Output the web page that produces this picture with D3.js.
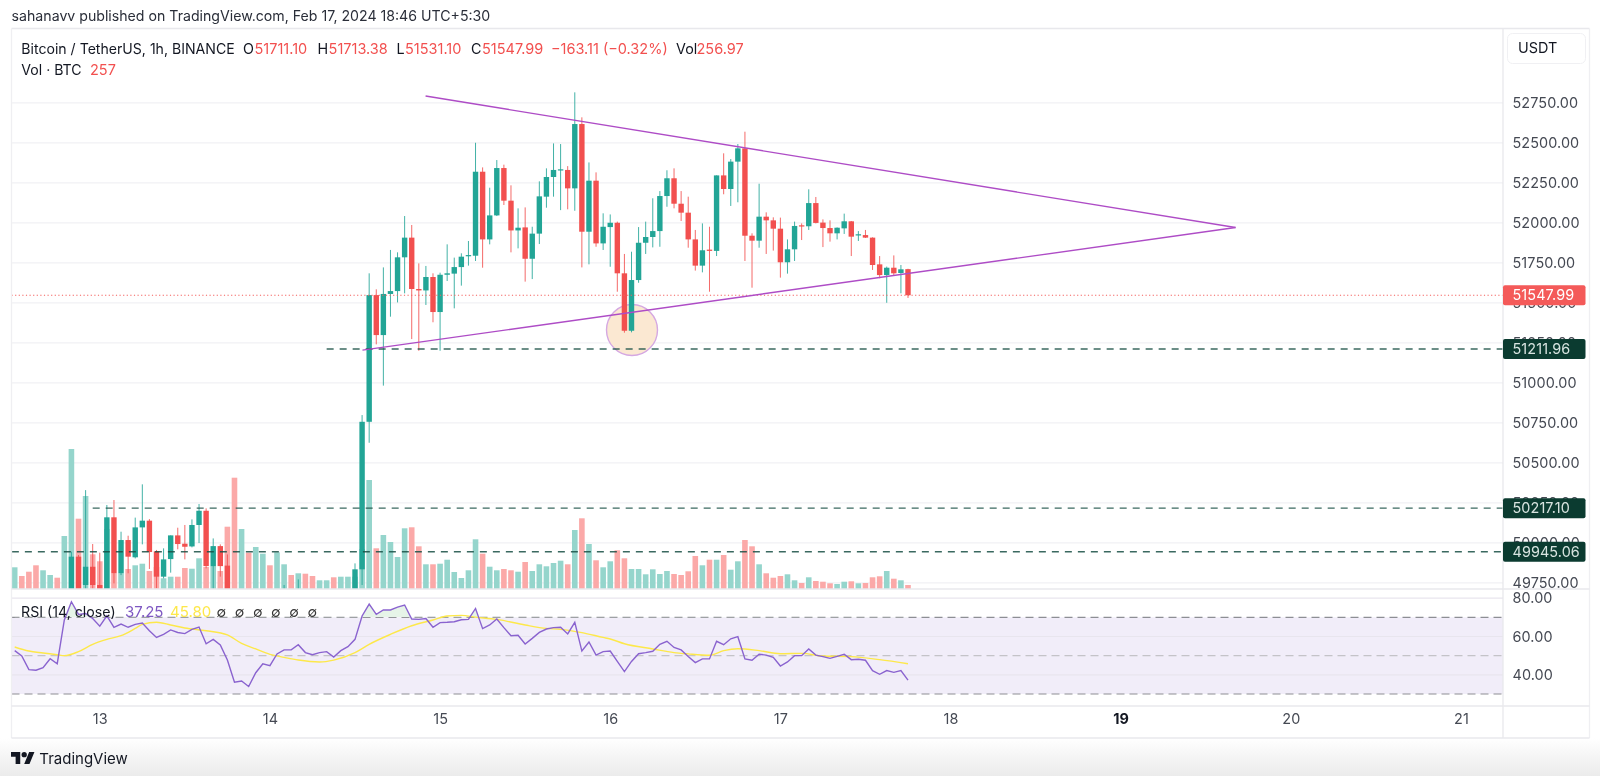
<!DOCTYPE html>
<html>
<head>
	<meta charset="utf-8">
	<title>BTCUSDT 1h</title>
	<script src="https://d3js.org/d3.v7.min.js"></script>
	<style type="text/css">
		html, body {
			margin: 0;
			background: #fff;
			overflow: hidden;
		}
		svg {
			display: block;
			filter: blur(0.35px);
			font-family: Inter, "Liberation Sans", sans-serif;
		}
		.tick text {
			font-family: Inter, "Liberation Sans", sans-serif;
		}
	</style>
</head>
<body>
<div id="chart"></div>

<script>
	// hourly bars, first one is Feb 12 12:00. bars hidden under the pane are rough guesses
	var opens = [
		49600,49640,49640,49640,49600,49600,49640,49600,49650,49914,
		49737,49851,49737,49650,50160,49810,50018,49910,50097,50139,
		49947,49789,49899,50047,49995,49978,50112,50201,49855,49980,
		49858,49640,49600,49640,49600,49600,49640,49600,49600,49640,
		49600,49640,49640,49600,49600,49640,49600,49600,49650,49835,
		50757,51549,51299,51556,51574,51785,51908,51587,51578,51662,
		51443,51676,51683,51724,51795,51795,52320,51897,52047,52343,
		52139,51953,51972,51776,51933,52164,52287,52331,52331,52216,
		52618,51945,52264,51872,51974,52001,51685,51326,51643,51876,
		51912,51949,52168,52279,52120,52064,51897,51733,51833,51825,
		52297,52212,52383,52466,51920,51889,52039,52016,51964,51754,
		51835,51985,51979,52124,52002,51968,51935,51966,52010,51924,
		51924,51908,51741,51674,51720,51687,51711.10
	];
	var closes = [
		49640,49600,49600,49600,49640,49640,49600,49640,49914,49650,
		49851,49737,49650,50160,49810,50018,49914,50097,50139,49943,
		49789,49897,50047,49993,49976,50112,50201,49855,49980,49855,
		49650,49600,49640,49600,49640,49640,49600,49640,49640,49600,
		49640,49600,49600,49640,49640,49600,49640,49640,49835,50757,
		51549,51299,51556,51574,51785,51908,51587,51578,51662,51443,
		51676,51685,51724,51789,51799,52320,51897,52047,52343,52139,
		51953,51970,51776,51933,52166,52287,52331,52335,52216,52618,
		51945,52264,51872,51976,52001,51685,51326,51643,51876,51912,
		51949,52168,52279,52120,52064,51897,51733,51829,51825,52297,
		52212,52383,52466,51920,51889,52039,52016,51964,51754,51835,
		51981,51979,52124,52000,51968,51935,51970,52010,51914,51929,
		51908,51737,51674,51720,51685,51710,51547.99
	];
	var highs = [
		49660,49660,49660,49660,49660,49660,49660,49660,49945,49924,
		50330,49993,49939,50237,50268,50070,50045,50158,50366,50149,
		49956,49966,50047,50095,50112,50147,50243,50216,50028,49991,
		49928,49660,49660,49660,49660,49660,49660,49660,49737,49660,
		49772,49660,49660,49660,49660,49660,49660,49660,49872,50799,
		51685,51585,51722,51831,51816,52043,51987,51747,51731,51685,
		51689,51866,51783,51810,51887,52501,52347,52220,52393,52364,
		52235,52091,52097,51976,52260,52341,52497,52493,52355,52816,
		52660,52378,52316,52060,52053,52008,51806,51820,51974,52008,
		52154,52199,52329,52341,52199,52164,51956,51997,51976,52297,
		52435,52399,52493,52570,51935,52245,52066,52035,52033,51897,
		52008,51997,52210,52162,52022,52016,51972,52058,52012,51949,
		51956,51910,51793,51727,51797,51737,51713.38
	];
	var lows = [
		49580,49580,49580,49580,49580,49580,49580,49580,49600,49600,
		49650,49690,49600,49600,49747,49799,49810,49903,49991,49837,
		49716,49778,49814,49960,49897,49972,49999,49841,49650,49789,
		49600,49580,49580,49580,49580,49580,49580,49580,49580,49580,
		49580,49580,49580,49580,49580,49580,49580,49580,49600,49737,
		50626,51241,50983,51414,51503,51560,51274,51201,51487,51379,
		51201,51637,51466,51608,51733,51762,51720,51866,52043,52112,
		51816,51841,51633,51649,51868,52095,52164,52080,52085,52076,
		51722,51741,51851,51831,51726,51570,51314,51316,51626,51806,
		51847,51851,52101,52091,52012,51845,51702,51691,51570,51793,
		52179,52106,52129,51762,51595,51845,51806,51827,51658,51683,
		51762,51893,51956,51997,51849,51883,51897,51931,51793,51887,
		51906,51706,51654,51501,51670,51560,51531.10
	];
	var volumes = [
		1389,832,1107,1517,1197,896,723,3392,8960,4499,
		5952,2221,1773,3840,1005,1005,1280,1517,1619,1152,
		1408,685,787,787,1344,1299,1965,1408,1472,1152,
		3987,7123,3840,2323,2688,2259,1517,2349,1581,896,
		1005,979,832,557,557,749,787,787,787,2560,
		6976,2605,3456,3008,2048,3885,3949,2733,1581,1581,
		1619,1875,1088,704,1197,3181,2259,1427,1197,1280,
		1197,1107,1728,1152,1581,1453,1664,1811,1581,3776,
		4525,2880,1837,1389,1773,2477,1965,1280,1280,941,
		1261,960,1152,960,896,1133,2112,1517,1875,1875,
		2176,1235,1773,3136,2733,1581,1005,723,832,941,
		557,384,749,512,467,365,320,467,493,365,
		384,749,813,1152,659,557,257
	];
	var rsi = [
		52.6,49.8,42.7,42.4,43.7,48.4,45.8,68.6,78.1,71.5,
		72.0,69.4,65.4,70.8,64.8,66.5,64.8,66.3,67.0,63.0,
		59.5,61.1,63.4,62.1,61.5,63.7,64.9,56.2,58.5,55.6,
		47.7,36.1,36.8,33.9,41.1,45.8,44.8,50.9,53.0,53.0,
		55.7,51.6,50.5,51.6,52.1,49.3,52.6,54.7,58.5,70.7,
		76.9,71.5,73.8,73.8,75.3,76.4,69.1,68.9,69.4,64.8,
		67.2,67.4,67.7,68.7,68.9,74.6,64.1,66.0,69.1,64.6,
		60.4,60.6,56.1,59.0,62.1,63.9,64.6,64.8,61.3,67.4,
		52.4,57.1,50.3,52.1,52.4,47.0,41.7,47.0,51.0,51.6,
		52.3,55.9,57.5,54.3,53.0,49.6,46.4,48.3,48.3,57.5,
		55.7,58.8,59.9,48.3,47.6,50.7,50.3,49.1,44.6,46.7,
		50.0,50.0,53.5,50.3,49.5,48.6,49.6,50.7,47.9,48.1,
		47.6,42.2,40.3,42.2,41.3,42.2,37.25
	];
	// rsi moving average, read at these bars
	var rsiMaBars = [0,2,4,6,7,9,11,13,15,17,18,20,22,24,27,30,32,34,36,38,40,43,45,48,50,53,56,59,61,63,65,68,72,75,77,80,83,84,86,90,93,95,98,100,102,105,108,111,114,118,122,126];
	var rsiMaValues = [54.5,52.4,51.4,50.5,50.0,52.1,55.9,58.5,60.4,64.2,66.3,67.4,66.0,64.4,63.0,60.8,56.4,53.5,50.7,49.1,47.7,46.7,47.7,51.6,55.9,61.1,65.6,68.6,70.7,71.0,70.1,68.9,66.0,64.2,63.7,62.0,59.5,58.7,56.2,53.5,51.6,50.9,50.2,52.6,53.6,52.6,51.0,51.2,49.8,49.5,47.9,45.8];

	var priceTicks = [52750,52500,52250,52000,51750,51500,51250,51000,50750,50500,50250,50000,49750];
	var rsiTicks = [80,60,40];
	var rsiBands = [70,50,30];
	var dayBars = [12,36,60,84,108,132,156,180,204];
	var dayLabels = ["13","14","15","16","17","18","19","20","21"];
	var lastPrice = 51547.99;
	var levels = [51211.96,50217.10,49945.06];
	var levelStartBars = [44,11,-0.4];
	var trendUpper = [[57.95,52793],[172.2,51971]];
	var trendLower = [[49.05,51205],[172.2,51971]];
	var circleSpot = [87.07,51331];

	var width = 1600, height = 776;
	var frame = {left: 11.5, right: 1589.5, top: 28.5, axis: 1503};
	var paneBottom = 589, rsiBottom = 706, timeBottom = 738;

	var green = "#22a596", red = "#f2504f", textDark = "#131722", tickColor = "#454953";

	var x = d3.scaleLinear().domain([0,126]).range([14.7,908]);
	var y = d3.scaleLinear().domain([49945.06,51211.96]).range([551.7,349]);
	var yVol = d3.scaleLinear().domain([0,8960]).range([paneBottom,449]);
	var yRsi = d3.scaleLinear().domain([30,70]).range([694,617.3]);

	var svg = d3.select("#chart").append("svg")
		.attr("width", width)
		.attr("height", height);

	var defs = svg.append("defs");
	defs.append("clipPath").attr("id","priceClip").append("rect")
		.attr("x",frame.left).attr("y",frame.top)
		.attr("width",frame.axis-frame.left).attr("height",paneBottom-frame.top);
	defs.append("clipPath").attr("id","overbought").append("rect")
		.attr("x",frame.left).attr("y",paneBottom)
		.attr("width",frame.axis-frame.left).attr("height",yRsi(70)-paneBottom);
	var foot = defs.append("linearGradient").attr("id","foot")
		.attr("x1",0).attr("y1",0).attr("x2",0).attr("y2",1);
	foot.append("stop").attr("offset","0%").attr("stop-color","#fff");
	foot.append("stop").attr("offset","100%").attr("stop-color","#ebebeb");

	// footer fade
	svg.append("rect")
		.attr("x",0).attr("y",timeBottom)
		.attr("width",width).attr("height",height-timeBottom)
		.attr("fill","url(#foot)");

	/****** gridlines ******/
	svg.append("g").selectAll("line").data(priceTicks).enter().append("line")
		.attr("x1",frame.left).attr("x2",frame.axis)
		.attr("y1",function(d){ return y(d); })
		.attr("y2",function(d){ return y(d); })
		.attr("stroke","#f1f1f4").attr("stroke-width",1.4);

	/****** volume ******/
	var pane = svg.append("g").attr("clip-path","url(#priceClip)");

	pane.append("g").selectAll("rect").data(volumes).enter().append("rect")
		.attr("x",function(d,i){ return x(i)-2.8; })
		.attr("width",5.6)
		.attr("y",function(d){ return yVol(d); })
		.attr("height",function(d){ return paneBottom-yVol(d); })
		.attr("fill",function(d,i){ return closes[i]>=opens[i] ? "#95d5cc" : "#fba9a8"; });

	/****** circle under the candles ******/
	pane.append("circle")
		.attr("cx",x(circleSpot[0]))
		.attr("cy",y(circleSpot[1]))
		.attr("r",25.5)
		.attr("fill","#fbe8d2")
		.attr("stroke","#d5a8e2")
		.attr("stroke-width",1.4);

	/****** candles ******/
	var candles = pane.append("g").selectAll("g").data(opens).enter().append("g");

	candles.append("line")
		.attr("x1",function(d,i){ return x(i); })
		.attr("x2",function(d,i){ return x(i); })
		.attr("y1",function(d,i){ return y(highs[i]); })
		.attr("y2",function(d,i){ return y(lows[i]); })
		.attr("stroke",function(d,i){ return closes[i]>=opens[i] ? green : red; })
		.attr("stroke-opacity",0.85)
		.attr("stroke-width",1);

	candles.append("rect")
		.attr("x",function(d,i){ return x(i)-2.7; })
		.attr("width",5.4)
		.attr("y",function(d,i){ return y(Math.max(opens[i],closes[i])); })
		.attr("height",function(d,i){ return Math.max(1.2,Math.abs(y(opens[i])-y(closes[i]))); })
		.attr("fill",function(d,i){ return closes[i]>=opens[i] ? green : red; });

	/****** levels and last price ******/
	pane.selectAll(".level").data(levels).enter().append("line")
		.attr("class","level")
		.attr("x1",function(d,i){ return x(levelStartBars[i]); })
		.attr("x2",frame.axis)
		.attr("y1",function(d){ return y(d); })
		.attr("y2",function(d){ return y(d); })
		.attr("stroke","#174f44")
		.attr("stroke-opacity",0.85)
		.attr("stroke-width",1.4)
		.attr("stroke-dasharray","7,6");

	pane.append("line")
		.attr("x1",frame.left).attr("x2",frame.axis)
		.attr("y1",y(lastPrice)).attr("y2",y(lastPrice))
		.attr("stroke","#f4605e")
		.attr("stroke-width",1.2)
		.attr("stroke-dasharray","1.2,2.4");

	/****** triangle ******/
	var trendLine = d3.line()
		.x(function(d){ return x(d[0]); })
		.y(function(d){ return y(d[1]); });

	[trendUpper,trendLower].forEach(function(t){
		pane.append("path")
			.attr("d",trendLine(t))
			.attr("fill","none")
			.attr("stroke","#ae4cc6")
			.attr("stroke-width",1.4);
	});

	/****** rsi pane ******/
	svg.append("rect")
		.attr("x",frame.left).attr("width",frame.axis-frame.left)
		.attr("y",yRsi(70)).attr("height",yRsi(30)-yRsi(70))
		.attr("fill","#f1edf9");

	svg.append("g").selectAll("line").data(rsiTicks).enter().append("line")
		.attr("x1",frame.left).attr("x2",frame.axis)
		.attr("y1",function(d){ return yRsi(d); })
		.attr("y2",function(d){ return yRsi(d); })
		.attr("stroke","#e8e5ee").attr("stroke-width",1.2);

	svg.append("g").selectAll("line").data(rsiBands).enter().append("line")
		.attr("x1",frame.left).attr("x2",frame.axis)
		.attr("y1",function(d){ return yRsi(d); })
		.attr("y2",function(d){ return yRsi(d); })
		.attr("stroke",function(d){ return d==50 ? "#c4c3c8" : "#8d8e94"; })
		.attr("stroke-width",1.2)
		.attr("stroke-dasharray","8,5");

	svg.append("path")
		.datum(rsi)
		.attr("clip-path","url(#overbought)")
		.attr("fill","#e6f4e8")
		.attr("d",d3.area()
			.x(function(d,i){ return x(i); })
			.y0(yRsi(70))
			.y1(function(d){ return yRsi(d); }));

	svg.append("path")
		.datum(rsiMaValues)
		.attr("fill","none")
		.attr("stroke","#fde84a")
		.attr("stroke-width",1.4)
		.attr("d",d3.line()
			.curve(d3.curveMonotoneX)
			.x(function(d,i){ return x(rsiMaBars[i]); })
			.y(function(d){ return yRsi(d); }));

	svg.append("path")
		.datum(rsi)
		.attr("fill","none")
		.attr("stroke","#8a63cf")
		.attr("stroke-width",1.4)
		.attr("d",d3.line()
			.x(function(d,i){ return x(i); })
			.y(function(d){ return yRsi(d); }));

	/****** frame ******/
	var frameLines = [
		[frame.left,frame.top,frame.right,frame.top],
		[frame.left,frame.top,frame.left,timeBottom],
		[frame.right,frame.top,frame.right,timeBottom],
		[frame.axis,frame.top,frame.axis,timeBottom],
		[frame.left,paneBottom,frame.right,paneBottom],
		[frame.left,rsiBottom,frame.right,rsiBottom],
		[frame.left,timeBottom,frame.right,timeBottom]
	];
	svg.append("g").selectAll("line").data(frameLines).enter().append("line")
		.attr("x1",function(d){ return d[0]; })
		.attr("y1",function(d){ return d[1]; })
		.attr("x2",function(d){ return d[2]; })
		.attr("y2",function(d){ return d[3]; })
		.attr("stroke",function(d){ return d[0]==frame.left && d[2]==frame.left || d[0]==frame.right ? "#efeff2" : "#e8e8ec"; })
		.attr("stroke-width",1.3);

	/****** axes ******/
	var priceAxis = svg.append("g")
		.attr("transform","translate("+frame.axis+",0)")
		.call(d3.axisRight(y).tickValues(priceTicks).tickSize(0).tickPadding(9.5).tickFormat(d3.format(".2f")));
	var rsiAxis = svg.append("g")
		.attr("transform","translate("+frame.axis+",0)")
		.call(d3.axisRight(yRsi).tickValues(rsiTicks).tickSize(0).tickPadding(9.5).tickFormat(d3.format(".2f")));
	var timeAxis = svg.append("g")
		.attr("transform","translate(0,714)")
		.call(d3.axisBottom(x).tickValues(dayBars).tickSize(0).tickPadding(0).tickFormat(function(d,i){ return dayLabels[i]; }));

	[priceAxis,rsiAxis,timeAxis].forEach(function(a){
		a.select(".domain").remove();
		a.selectAll("text")
			.attr("fill",tickColor)
			.style("font-size","14.4px")
			.style("letter-spacing","0.1px");
	});
	timeAxis.selectAll("text")
		.style("font-weight",function(d,i){ return dayLabels[i]=="19" ? 700 : 400; })
		.attr("fill",function(d,i){ return dayLabels[i]=="19" ? textDark : tickColor; });

	/****** price tags ******/
	var tags = [lastPrice].concat(levels);
	var tagGroup = svg.append("g").selectAll("g").data(tags).enter().append("g")
		.attr("transform",function(d){ return "translate("+frame.axis+","+y(d)+")"; });

	tagGroup.append("rect")
		.attr("x",0).attr("y",-10).attr("width",82.5).attr("height",20).attr("rx",2)
		.attr("fill",function(d,i){ return i==0 ? "#f45a59" : "#0b3b30"; });

	tagGroup.append("text")
		.attr("x",9.5).attr("dy","0.36em")
		.attr("fill",function(d,i){ return i==0 ? "#fff" : "#d8e4e0"; })
		.style("font-size","14.4px")
		.style("letter-spacing","0.1px")
		.text(function(d){ return d3.format(".2f")(d); });

	/****** header text ******/
	function label(txt, lx, ly, color, size, weight) {
		svg.append("text")
			.attr("x",lx).attr("y",ly)
			.attr("dy","0.36em")
			.attr("fill",color)
			.style("font-size",(size||14)+"px")
			.style("font-weight",weight||400)
			.text(txt);
	}

	label("sahanavv published on TradingView.com, Feb 17, 2024 18:46 UTC+5:30",11.6,16,"#2a2e39",14.15);

	label("Bitcoin / TetherUS, 1h, BINANCE",21.3,49,textDark,14.1);
	label("O",243,49,textDark,14.3);
	label("51711.10",254.5,49,red,14.5);
	label("H",317.5,49,textDark,14.3);
	label("51713.38",328.6,49,red,14.5);
	label("L",396.5,49,textDark,14.3);
	label("51531.10",405,49,red,14.5);
	label("C",471,49,textDark,14.3);
	label("51547.99",482,49,red,14.5);
	label("\u2212163.11 (\u22120.32%)",551,49,red,14.5);
	label("Vol",676,49,textDark,14.3);
	label("256.97",696.5,49,red,14.5);

	label("Vol \u00b7 BTC",21.3,69.5,textDark,14.1);
	label("257",90,69.5,red,14.5);

	// rsi legend
	label("RSI (14, close)",21,611.5,textDark,14.2);
	label("37.25",125,611.5,"#7e57c2",15);
	label("45.80",170,611.5,"#fde84a",15);
	["\u2205","\u2205","\u2205","\u2205","\u2205","\u2205"].forEach(function(s,i){
		label(s,216.5+i*18.2,611.5,"#333",14);
	});

	// usdt button
	svg.append("rect")
		.attr("x",1507.5).attr("y",33.5).attr("width",78).attr("height",30).attr("rx",5)
		.attr("fill","#fff").attr("stroke","#f0f0f3");
	label("USDT",1518,48,textDark,14.4);

	/****** logo ******/
	var logo = svg.append("g").attr("transform","translate(11,749.4) scale(0.66)").attr("fill",textDark);
	logo.append("path").attr("d","M14 22H7V11H0V4h14v18zM28 22h-8l7.5-18h8L28 22z");
	logo.append("circle").attr("cx",20).attr("cy",8).attr("r",4);
	label("TradingView",39.3,759,textDark,15);
</script>

</body>
</html>
